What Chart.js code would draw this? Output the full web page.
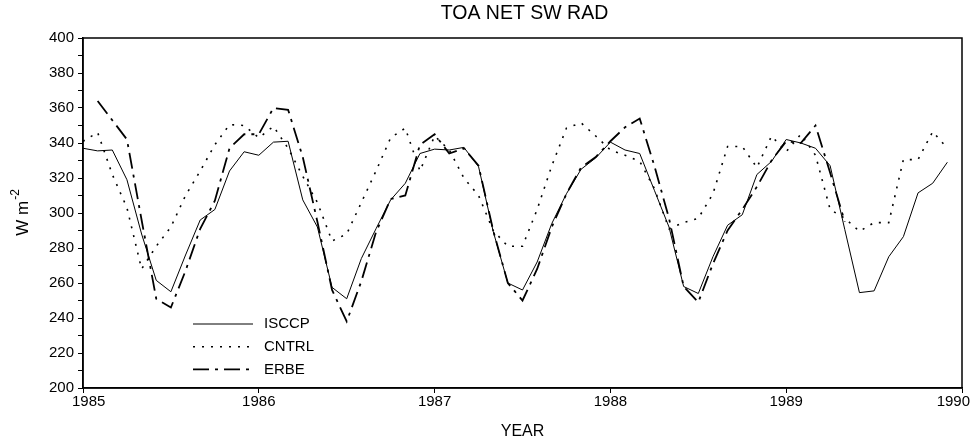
<!DOCTYPE html>
<html>
<head>
<meta charset="utf-8">
<script src="https://cdn.jsdelivr.net/npm/chart.js@4"></script>
<style>
  html, body { margin: 0; padding: 0; background: #fff; }
  #wrap { width: 972px; height: 442px; }
</style>
</head>
<body>
<div id="wrap"><canvas id="chart" width="972" height="442"></canvas></div>
<script>
// monthly values, Jan 1985 .. Dec 1989
const START_YEAR = 1985;
const yearTicks = [1985, 1986, 1987, 1988, 1989, 1990];

const isccp = [
    337, 335.5, 336, 319, 288, 261.5, 255, 276, 296, 302,
    324, 335, 333, 340.5, 341, 307.5, 292, 257.5, 251, 274,
    291, 307.5, 317, 334, 336.5, 336, 337.5, 326.5, 289.5, 260,
    256, 272, 294, 311, 325, 331.5, 340.5, 336, 334, 313,
    292, 258, 254, 275, 293, 299, 322, 329.5, 342, 340,
    337, 327, 290.5, 254.5, 255.5, 275, 286.5, 311.5, 317, 329
];

const cntrl = [
    341, 346, 322, 303, 268, 281, 292, 310, 324, 339,
    350.5, 350, 343, 349.5, 337, 321, 306, 284, 288, 306,
    324, 343, 348.5, 324, 344, 336, 320, 310, 290, 281,
    281, 302, 327, 348.5, 351.5, 344, 336, 333, 329.5, 314,
    291, 294.5, 297, 311, 338, 338, 326, 344, 335, 345,
    333, 302, 297, 289.5, 294.5, 294.5, 330.5, 330.5, 346.5, 337
];

const erbe = [
    null, 364, 353, 342, 296, 251, 246, 267, 291, 307,
    337, 345, 345, 360, 359, 332, 295, 256, 238, 261,
    289, 308, 310, 339, 345, 334, 337, 327, 290, 260,
    250, 268, 292, 311, 326, 332, 341, 349, 354, 327,
    297, 258, 249, 271, 290, 302, 315, 330, 341, 340,
    350, 323, 295, null, null, null, null, null, null, null
];

function toPoints(values) {
    return values.map((v, i) => ({ x: START_YEAR + i / 12, y: v }));
}

const FONT = "'Liberation Sans', Arial, Helvetica, sans-serif";
const TITLE = "TOA NET SW RAD";

// box round the plot + title centred over it
const frame = {
    id: "frame",
    afterDraw(chart) {
        const { ctx, chartArea: a } = chart;
        ctx.save();
        ctx.strokeStyle = "#000";
        ctx.lineWidth = 1.5;
        ctx.strokeRect(a.left, a.top, a.right - a.left, a.bottom - a.top);
        ctx.fillStyle = "#000";
        ctx.font = "19.5px " + FONT;
        ctx.textAlign = "center";
        ctx.textBaseline = "middle";
        ctx.fillText(TITLE, (a.left + a.right) / 2 + 2, 14);
        ctx.restore();
    }
};

// year labels, kept inside the canvas like the original plot
const yearLabels = {
    id: "yearLabels",
    afterDraw(chart) {
        const { ctx, chartArea: a } = chart;
        const xs = chart.scales.x;
        ctx.save();
        ctx.fillStyle = "#000";
        ctx.font = "15px " + FONT;
        ctx.textBaseline = "middle";
        ctx.textAlign = "left";
        xs.ticks.forEach(t => {
            const label = String(t.value);
            const w = ctx.measureText(label).width;
            let left = xs.getPixelForValue(t.value) - w / 2;
            left = Math.max(left, a.left - 11);
            left = Math.min(left, chart.width - 2 - w);
            ctx.fillText(label, left, a.bottom + 14);
        });
        ctx.restore();
    }
};

// y title with superscript
const yTitle = {
    id: "yTitle",
    afterDraw(chart) {
        const { ctx, chartArea: a } = chart;
        const cy = (a.top + a.bottom) / 2;
        ctx.save();
        ctx.translate(23, cy);
        ctx.rotate(-Math.PI / 2);
        ctx.fillStyle = "#000";
        ctx.textBaseline = "middle";
        ctx.font = "17px " + FONT;
        const main = "W m";
        const wMain = ctx.measureText(main).width;
        ctx.font = "12px " + FONT;
        const sup = "-2";
        const wSup = ctx.measureText(sup).width;
        const x0 = -(wMain + wSup) / 2;
        ctx.font = "17px " + FONT;
        ctx.textAlign = "left";
        ctx.fillText(main, x0, 0);
        ctx.font = "12px " + FONT;
        ctx.fillText(sup, x0 + wMain + 1, -7);
        ctx.restore();
    }
};

// legend inside the plot, lower left
const innerLegend = {
    id: "innerLegend",
    afterDraw(chart) {
        const { ctx, chartArea: a } = chart;
        const x0 = a.left + 110;
        const x1 = a.left + 170;
        let y = a.bottom - 64;
        ctx.save();
        chart.data.datasets.forEach(ds => {
            ctx.strokeStyle = "#000";
            ctx.lineWidth = ds.borderWidth;
            ctx.setLineDash(ds.borderDash || []);
            ctx.beginPath();
            ctx.moveTo(x0, y);
            ctx.lineTo(x1, y);
            ctx.stroke();
            ctx.setLineDash([]);
            ctx.fillStyle = "#000";
            ctx.font = "15px " + FONT;
            ctx.textBaseline = "middle";
            ctx.fillText(ds.label, x1 + 11, y);
            y += 22.7;
        });
        ctx.restore();
    }
};

new Chart(document.getElementById("chart"), {
    type: "line",
    data: {
        datasets: [
            {
                label: "ISCCP",
                data: toPoints(isccp),
                borderColor: "#000",
                borderWidth: 1,
                borderDash: []
            },
            {
                label: "CNTRL",
                data: toPoints(cntrl),
                borderColor: "#000",
                borderWidth: 1.6,
                borderDash: [2, 7]
            },
            {
                label: "ERBE",
                data: toPoints(erbe),
                borderColor: "#000",
                borderWidth: 1.8,
                borderDash: [16, 6, 3, 6]
            }
        ]
    },
    options: {
        responsive: false,
        animation: false,
        devicePixelRatio: 1,
        layout: { padding: { top: 38, right: 10, left: 0, bottom: 0 } },
        elements: {
            point: { radius: 0 },
            line: { tension: 0, fill: false }
        },
        plugins: {
            legend: { display: false },
            tooltip: { enabled: false },
            title: { display: false }
        },
        scales: {
            x: {
                type: "linear",
                min: 1985,
                max: 1990,
                afterBuildTicks: s => { s.ticks = yearTicks.map(v => ({ value: v })); },
                afterFit: s => { s.height = 54; s.paddingLeft = 0; s.paddingRight = 0; },
                ticks: { display: false },
                grid: {
                    drawOnChartArea: false,
                    drawTicks: true,
                    tickLength: 5,
                    color: "#000"
                },
                border: { display: true, color: "#000", width: 1.5 },
                title: {
                    display: true,
                    text: "YEAR",
                    color: "#000",
                    font: { family: FONT, size: 16 },
                    padding: { top: 0, bottom: 1 }
                }
            },
            y: {
                min: 200,
                max: 400,
                afterFit: s => { s.width = 83; },
                ticks: {
                    stepSize: 10,
                    autoSkip: false,
                    color: "#000",
                    font: { family: FONT, size: 15 },
                    padding: 4,
                    callback: v => (v % 20 === 0 ? String(v) : "")
                },
                grid: {
                    drawOnChartArea: false,
                    drawTicks: true,
                    tickLength: 5,
                    color: "#000"
                },
                border: { display: true, color: "#000", width: 1.5 }
            }
        }
    },
    plugins: [frame, yearLabels, yTitle, innerLegend]
});
</script>
</body>
</html>
